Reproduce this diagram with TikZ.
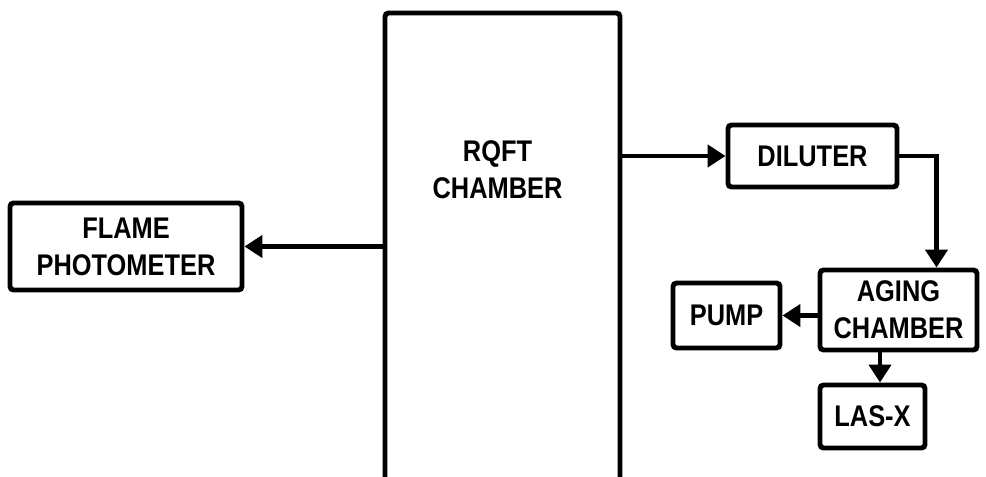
\documentclass[tikz,border=0pt]{standalone}
\usepackage{fontspec}
\setmainfont[FakeStretch=0.85]{Liberation Sans}
\usetikzlibrary{arrows.meta,positioning,calc}

\begin{document}
\begin{tikzpicture}[
  font=\bfseries\fontsize{17}{21}\selectfont,
  >={Triangle[length=3.6mm,width=4.4mm]},
  unit/.style={rectangle, rounded corners=2pt, draw=black, line width=2.8pt,
               align=center, inner sep=2pt},
  flow/.style={->, draw=black, line width=2.8pt},
  lbl/.style={align=center, inner sep=0pt},
]
\clip (0,0) rectangle (19.72,9.54);

\node[unit, minimum width=4.7cm, minimum height=9.64cm] (rqft) at (10.05,4.46) {};
\node[lbl] (rqftlbl) at (9.95,6.14) {RQFT\\CHAMBER};

\node[unit, minimum width=4.64cm, minimum height=1.74cm] (flame) at (2.52,4.61)
  {FLAME\\PHOTOMETER};
\node[unit, minimum width=3.38cm, minimum height=1.24cm] (dil) at (16.25,6.42)
  {DILUTER};
\node[unit, minimum width=3.14cm, minimum height=1.6cm] (aging) at (17.97,3.34)
  {AGING\\CHAMBER};
\node[unit, minimum width=2.14cm, minimum height=1.3cm] (pump) at (14.53,3.23)
  {PUMP};
\node[unit, minimum width=2.1cm, minimum height=1.26cm] (lasx) at (17.45,1.21)
  {LAS-X};

\draw[flow] (rqft.west |- flame.east) -- (flame.east);
\draw[flow] (rqft.east |- dil.west) -- (dil.west);
\draw[flow] (dil.east) -| ([xshift=7.6mm]aging.north);
\draw[flow] (aging.west |- pump.east) -- (pump.east);
\draw[flow] ([xshift=1.5mm]lasx.north |- aging.south) -- ([xshift=1.5mm]lasx.north);
\end{tikzpicture}
\end{document}
